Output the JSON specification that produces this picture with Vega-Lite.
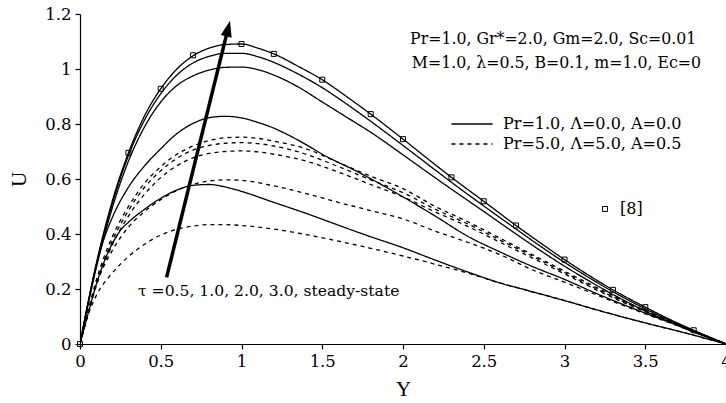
{
  "$schema": "https://vega.github.io/schema/vega-lite/v6.json",
  "width": 646,
  "height": 330,
  "autosize": {"type": "none"},
  "padding": {"left": 80, "top": 14, "right": 0, "bottom": 59},
  "background": "white",
  "config": {
    "view": {"stroke": null},
    "axis": {
      "grid": false,
      "domainColor": "black",
      "domainWidth": 1.2,
      "tickColor": "black",
      "tickSize": 5,
      "tickWidth": 1.2,
      "labelColor": "black",
      "labelFont": "DejaVu Serif",
      "labelFontSize": 16.5,
      "labelPadding": 4,
      "labelFlush": false,
      "titleColor": "black",
      "titleFont": "serif",
      "titleFontSize": 21,
      "titleFontWeight": "normal"
    }
  },
  "datasets": {
    "curves": [
      {"series":"Pr=1.0","tau":"ss","Y":0,"U":0},
      {"series":"Pr=1.0","tau":"ss","Y":0.1,"U":0.29},
      {"series":"Pr=1.0","tau":"ss","Y":0.2,"U":0.52},
      {"series":"Pr=1.0","tau":"ss","Y":0.3,"U":0.695},
      {"series":"Pr=1.0","tau":"ss","Y":0.4,"U":0.83},
      {"series":"Pr=1.0","tau":"ss","Y":0.5,"U":0.928},
      {"series":"Pr=1.0","tau":"ss","Y":0.6,"U":1.0},
      {"series":"Pr=1.0","tau":"ss","Y":0.7,"U":1.048},
      {"series":"Pr=1.0","tau":"ss","Y":0.8,"U":1.076},
      {"series":"Pr=1.0","tau":"ss","Y":0.9,"U":1.089},
      {"series":"Pr=1.0","tau":"ss","Y":1.0,"U":1.091},
      {"series":"Pr=1.0","tau":"ss","Y":1.1,"U":1.076},
      {"series":"Pr=1.0","tau":"ss","Y":1.2,"U":1.055},
      {"series":"Pr=1.0","tau":"ss","Y":1.35,"U":1.01},
      {"series":"Pr=1.0","tau":"ss","Y":1.5,"U":0.961},
      {"series":"Pr=1.0","tau":"ss","Y":1.65,"U":0.9},
      {"series":"Pr=1.0","tau":"ss","Y":1.8,"U":0.836},
      {"series":"Pr=1.0","tau":"ss","Y":2.0,"U":0.745},
      {"series":"Pr=1.0","tau":"ss","Y":2.15,"U":0.675},
      {"series":"Pr=1.0","tau":"ss","Y":2.3,"U":0.606},
      {"series":"Pr=1.0","tau":"ss","Y":2.5,"U":0.519},
      {"series":"Pr=1.0","tau":"ss","Y":2.7,"U":0.431},
      {"series":"Pr=1.0","tau":"ss","Y":2.85,"U":0.368},
      {"series":"Pr=1.0","tau":"ss","Y":3.0,"U":0.307},
      {"series":"Pr=1.0","tau":"ss","Y":3.15,"U":0.25},
      {"series":"Pr=1.0","tau":"ss","Y":3.3,"U":0.197},
      {"series":"Pr=1.0","tau":"ss","Y":3.5,"U":0.134},
      {"series":"Pr=1.0","tau":"ss","Y":3.65,"U":0.09},
      {"series":"Pr=1.0","tau":"ss","Y":3.8,"U":0.05},
      {"series":"Pr=1.0","tau":"ss","Y":4.0,"U":0},

      {"series":"Pr=1.0","tau":"3.0","Y":0,"U":0},
      {"series":"Pr=1.0","tau":"3.0","Y":0.1,"U":0.285},
      {"series":"Pr=1.0","tau":"3.0","Y":0.2,"U":0.51},
      {"series":"Pr=1.0","tau":"3.0","Y":0.3,"U":0.685},
      {"series":"Pr=1.0","tau":"3.0","Y":0.4,"U":0.815},
      {"series":"Pr=1.0","tau":"3.0","Y":0.5,"U":0.91},
      {"series":"Pr=1.0","tau":"3.0","Y":0.6,"U":0.978},
      {"series":"Pr=1.0","tau":"3.0","Y":0.7,"U":1.022},
      {"series":"Pr=1.0","tau":"3.0","Y":0.8,"U":1.046},
      {"series":"Pr=1.0","tau":"3.0","Y":0.9,"U":1.057},
      {"series":"Pr=1.0","tau":"3.0","Y":1.0,"U":1.057},
      {"series":"Pr=1.0","tau":"3.0","Y":1.1,"U":1.045},
      {"series":"Pr=1.0","tau":"3.0","Y":1.2,"U":1.024},
      {"series":"Pr=1.0","tau":"3.0","Y":1.35,"U":0.982},
      {"series":"Pr=1.0","tau":"3.0","Y":1.5,"U":0.932},
      {"series":"Pr=1.0","tau":"3.0","Y":1.65,"U":0.873},
      {"series":"Pr=1.0","tau":"3.0","Y":1.8,"U":0.81},
      {"series":"Pr=1.0","tau":"3.0","Y":2.0,"U":0.722},
      {"series":"Pr=1.0","tau":"3.0","Y":2.15,"U":0.655},
      {"series":"Pr=1.0","tau":"3.0","Y":2.3,"U":0.588},
      {"series":"Pr=1.0","tau":"3.0","Y":2.5,"U":0.502},
      {"series":"Pr=1.0","tau":"3.0","Y":2.7,"U":0.418},
      {"series":"Pr=1.0","tau":"3.0","Y":2.85,"U":0.356},
      {"series":"Pr=1.0","tau":"3.0","Y":3.0,"U":0.297},
      {"series":"Pr=1.0","tau":"3.0","Y":3.15,"U":0.242},
      {"series":"Pr=1.0","tau":"3.0","Y":3.3,"U":0.19},
      {"series":"Pr=1.0","tau":"3.0","Y":3.5,"U":0.128},
      {"series":"Pr=1.0","tau":"3.0","Y":3.65,"U":0.086},
      {"series":"Pr=1.0","tau":"3.0","Y":3.8,"U":0.047},
      {"series":"Pr=1.0","tau":"3.0","Y":4.0,"U":0},

      {"series":"Pr=1.0","tau":"2.0","Y":0,"U":0},
      {"series":"Pr=1.0","tau":"2.0","Y":0.1,"U":0.275},
      {"series":"Pr=1.0","tau":"2.0","Y":0.2,"U":0.495},
      {"series":"Pr=1.0","tau":"2.0","Y":0.3,"U":0.665},
      {"series":"Pr=1.0","tau":"2.0","Y":0.4,"U":0.79},
      {"series":"Pr=1.0","tau":"2.0","Y":0.5,"U":0.88},
      {"series":"Pr=1.0","tau":"2.0","Y":0.6,"U":0.94},
      {"series":"Pr=1.0","tau":"2.0","Y":0.7,"U":0.975},
      {"series":"Pr=1.0","tau":"2.0","Y":0.8,"U":0.996},
      {"series":"Pr=1.0","tau":"2.0","Y":0.9,"U":1.006},
      {"series":"Pr=1.0","tau":"2.0","Y":1.0,"U":1.007},
      {"series":"Pr=1.0","tau":"2.0","Y":1.1,"U":0.998},
      {"series":"Pr=1.0","tau":"2.0","Y":1.2,"U":0.978},
      {"series":"Pr=1.0","tau":"2.0","Y":1.35,"U":0.935},
      {"series":"Pr=1.0","tau":"2.0","Y":1.5,"U":0.88},
      {"series":"Pr=1.0","tau":"2.0","Y":1.65,"U":0.825},
      {"series":"Pr=1.0","tau":"2.0","Y":1.8,"U":0.77},
      {"series":"Pr=1.0","tau":"2.0","Y":2.0,"U":0.688},
      {"series":"Pr=1.0","tau":"2.0","Y":2.15,"U":0.625},
      {"series":"Pr=1.0","tau":"2.0","Y":2.3,"U":0.563},
      {"series":"Pr=1.0","tau":"2.0","Y":2.5,"U":0.482},
      {"series":"Pr=1.0","tau":"2.0","Y":2.7,"U":0.4},
      {"series":"Pr=1.0","tau":"2.0","Y":2.85,"U":0.34},
      {"series":"Pr=1.0","tau":"2.0","Y":3.0,"U":0.283},
      {"series":"Pr=1.0","tau":"2.0","Y":3.15,"U":0.23},
      {"series":"Pr=1.0","tau":"2.0","Y":3.3,"U":0.18},
      {"series":"Pr=1.0","tau":"2.0","Y":3.5,"U":0.12},
      {"series":"Pr=1.0","tau":"2.0","Y":3.65,"U":0.08},
      {"series":"Pr=1.0","tau":"2.0","Y":3.8,"U":0.043},
      {"series":"Pr=1.0","tau":"2.0","Y":4.0,"U":0},

      {"series":"Pr=1.0","tau":"1.0","Y":0,"U":0},
      {"series":"Pr=1.0","tau":"1.0","Y":0.05,"U":0.15},
      {"series":"Pr=1.0","tau":"1.0","Y":0.1,"U":0.285},
      {"series":"Pr=1.0","tau":"1.0","Y":0.15,"U":0.385},
      {"series":"Pr=1.0","tau":"1.0","Y":0.2,"U":0.46},
      {"series":"Pr=1.0","tau":"1.0","Y":0.3,"U":0.57},
      {"series":"Pr=1.0","tau":"1.0","Y":0.4,"U":0.648},
      {"series":"Pr=1.0","tau":"1.0","Y":0.5,"U":0.71},
      {"series":"Pr=1.0","tau":"1.0","Y":0.6,"U":0.765},
      {"series":"Pr=1.0","tau":"1.0","Y":0.7,"U":0.802},
      {"series":"Pr=1.0","tau":"1.0","Y":0.8,"U":0.823},
      {"series":"Pr=1.0","tau":"1.0","Y":0.9,"U":0.828},
      {"series":"Pr=1.0","tau":"1.0","Y":1.0,"U":0.822},
      {"series":"Pr=1.0","tau":"1.0","Y":1.1,"U":0.806},
      {"series":"Pr=1.0","tau":"1.0","Y":1.2,"U":0.785},
      {"series":"Pr=1.0","tau":"1.0","Y":1.3,"U":0.757},
      {"series":"Pr=1.0","tau":"1.0","Y":1.4,"U":0.725},
      {"series":"Pr=1.0","tau":"1.0","Y":1.5,"U":0.69},
      {"series":"Pr=1.0","tau":"1.0","Y":1.7,"U":0.632},
      {"series":"Pr=1.0","tau":"1.0","Y":1.85,"U":0.585},
      {"series":"Pr=1.0","tau":"1.0","Y":2.0,"U":0.535},
      {"series":"Pr=1.0","tau":"1.0","Y":2.2,"U":0.465},
      {"series":"Pr=1.0","tau":"1.0","Y":2.4,"U":0.392},
      {"series":"Pr=1.0","tau":"1.0","Y":2.6,"U":0.335},
      {"series":"Pr=1.0","tau":"1.0","Y":2.8,"U":0.282},
      {"series":"Pr=1.0","tau":"1.0","Y":3.0,"U":0.235},
      {"series":"Pr=1.0","tau":"1.0","Y":3.2,"U":0.183},
      {"series":"Pr=1.0","tau":"1.0","Y":3.4,"U":0.135},
      {"series":"Pr=1.0","tau":"1.0","Y":3.6,"U":0.09},
      {"series":"Pr=1.0","tau":"1.0","Y":3.8,"U":0.047},
      {"series":"Pr=1.0","tau":"1.0","Y":4.0,"U":0},

      {"series":"Pr=1.0","tau":"0.5","Y":0,"U":0},
      {"series":"Pr=1.0","tau":"0.5","Y":0.05,"U":0.11},
      {"series":"Pr=1.0","tau":"0.5","Y":0.1,"U":0.215},
      {"series":"Pr=1.0","tau":"0.5","Y":0.15,"U":0.3},
      {"series":"Pr=1.0","tau":"0.5","Y":0.2,"U":0.365},
      {"series":"Pr=1.0","tau":"0.5","Y":0.25,"U":0.413},
      {"series":"Pr=1.0","tau":"0.5","Y":0.3,"U":0.443},
      {"series":"Pr=1.0","tau":"0.5","Y":0.4,"U":0.49},
      {"series":"Pr=1.0","tau":"0.5","Y":0.5,"U":0.53},
      {"series":"Pr=1.0","tau":"0.5","Y":0.6,"U":0.56},
      {"series":"Pr=1.0","tau":"0.5","Y":0.7,"U":0.577},
      {"series":"Pr=1.0","tau":"0.5","Y":0.8,"U":0.58},
      {"series":"Pr=1.0","tau":"0.5","Y":0.9,"U":0.571},
      {"series":"Pr=1.0","tau":"0.5","Y":1.0,"U":0.555},
      {"series":"Pr=1.0","tau":"0.5","Y":1.2,"U":0.515},
      {"series":"Pr=1.0","tau":"0.5","Y":1.4,"U":0.475},
      {"series":"Pr=1.0","tau":"0.5","Y":1.6,"U":0.432},
      {"series":"Pr=1.0","tau":"0.5","Y":1.8,"U":0.39},
      {"series":"Pr=1.0","tau":"0.5","Y":2.0,"U":0.35},
      {"series":"Pr=1.0","tau":"0.5","Y":2.2,"U":0.305},
      {"series":"Pr=1.0","tau":"0.5","Y":2.4,"U":0.262},
      {"series":"Pr=1.0","tau":"0.5","Y":2.6,"U":0.222},
      {"series":"Pr=1.0","tau":"0.5","Y":2.8,"U":0.19},
      {"series":"Pr=1.0","tau":"0.5","Y":3.0,"U":0.158},
      {"series":"Pr=1.0","tau":"0.5","Y":3.2,"U":0.124},
      {"series":"Pr=1.0","tau":"0.5","Y":3.4,"U":0.092},
      {"series":"Pr=1.0","tau":"0.5","Y":3.6,"U":0.062},
      {"series":"Pr=1.0","tau":"0.5","Y":3.8,"U":0.032},
      {"series":"Pr=1.0","tau":"0.5","Y":4.0,"U":0},

      {"series":"Pr=5.0","tau":"ss","Y":0,"U":0},
      {"series":"Pr=5.0","tau":"ss","Y":0.05,"U":0.12},
      {"series":"Pr=5.0","tau":"ss","Y":0.1,"U":0.23},
      {"series":"Pr=5.0","tau":"ss","Y":0.2,"U":0.39},
      {"series":"Pr=5.0","tau":"ss","Y":0.3,"U":0.5},
      {"series":"Pr=5.0","tau":"ss","Y":0.4,"U":0.585},
      {"series":"Pr=5.0","tau":"ss","Y":0.5,"U":0.645},
      {"series":"Pr=5.0","tau":"ss","Y":0.6,"U":0.69},
      {"series":"Pr=5.0","tau":"ss","Y":0.7,"U":0.72},
      {"series":"Pr=5.0","tau":"ss","Y":0.8,"U":0.74},
      {"series":"Pr=5.0","tau":"ss","Y":0.9,"U":0.75},
      {"series":"Pr=5.0","tau":"ss","Y":1.0,"U":0.752},
      {"series":"Pr=5.0","tau":"ss","Y":1.1,"U":0.748},
      {"series":"Pr=5.0","tau":"ss","Y":1.2,"U":0.738},
      {"series":"Pr=5.0","tau":"ss","Y":1.4,"U":0.71},
      {"series":"Pr=5.0","tau":"ss","Y":1.6,"U":0.66},
      {"series":"Pr=5.0","tau":"ss","Y":1.8,"U":0.61},
      {"series":"Pr=5.0","tau":"ss","Y":2.0,"U":0.565},
      {"series":"Pr=5.0","tau":"ss","Y":2.2,"U":0.5},
      {"series":"Pr=5.0","tau":"ss","Y":2.4,"U":0.445},
      {"series":"Pr=5.0","tau":"ss","Y":2.6,"U":0.385},
      {"series":"Pr=5.0","tau":"ss","Y":2.8,"U":0.325},
      {"series":"Pr=5.0","tau":"ss","Y":3.0,"U":0.265},
      {"series":"Pr=5.0","tau":"ss","Y":3.2,"U":0.205},
      {"series":"Pr=5.0","tau":"ss","Y":3.4,"U":0.148},
      {"series":"Pr=5.0","tau":"ss","Y":3.6,"U":0.097},
      {"series":"Pr=5.0","tau":"ss","Y":3.8,"U":0.048},
      {"series":"Pr=5.0","tau":"ss","Y":4.0,"U":0},

      {"series":"Pr=5.0","tau":"3.0","Y":0,"U":0},
      {"series":"Pr=5.0","tau":"3.0","Y":0.05,"U":0.115},
      {"series":"Pr=5.0","tau":"3.0","Y":0.1,"U":0.22},
      {"series":"Pr=5.0","tau":"3.0","Y":0.2,"U":0.375},
      {"series":"Pr=5.0","tau":"3.0","Y":0.3,"U":0.485},
      {"series":"Pr=5.0","tau":"3.0","Y":0.4,"U":0.57},
      {"series":"Pr=5.0","tau":"3.0","Y":0.5,"U":0.63},
      {"series":"Pr=5.0","tau":"3.0","Y":0.6,"U":0.675},
      {"series":"Pr=5.0","tau":"3.0","Y":0.7,"U":0.705},
      {"series":"Pr=5.0","tau":"3.0","Y":0.8,"U":0.722},
      {"series":"Pr=5.0","tau":"3.0","Y":0.9,"U":0.73},
      {"series":"Pr=5.0","tau":"3.0","Y":1.0,"U":0.732},
      {"series":"Pr=5.0","tau":"3.0","Y":1.1,"U":0.729},
      {"series":"Pr=5.0","tau":"3.0","Y":1.2,"U":0.72},
      {"series":"Pr=5.0","tau":"3.0","Y":1.4,"U":0.69},
      {"series":"Pr=5.0","tau":"3.0","Y":1.6,"U":0.645},
      {"series":"Pr=5.0","tau":"3.0","Y":1.8,"U":0.597},
      {"series":"Pr=5.0","tau":"3.0","Y":2.0,"U":0.55},
      {"series":"Pr=5.0","tau":"3.0","Y":2.2,"U":0.49},
      {"series":"Pr=5.0","tau":"3.0","Y":2.4,"U":0.437},
      {"series":"Pr=5.0","tau":"3.0","Y":2.6,"U":0.378},
      {"series":"Pr=5.0","tau":"3.0","Y":2.8,"U":0.32},
      {"series":"Pr=5.0","tau":"3.0","Y":3.0,"U":0.26},
      {"series":"Pr=5.0","tau":"3.0","Y":3.2,"U":0.2},
      {"series":"Pr=5.0","tau":"3.0","Y":3.4,"U":0.145},
      {"series":"Pr=5.0","tau":"3.0","Y":3.6,"U":0.095},
      {"series":"Pr=5.0","tau":"3.0","Y":3.8,"U":0.047},
      {"series":"Pr=5.0","tau":"3.0","Y":4.0,"U":0},

      {"series":"Pr=5.0","tau":"2.0","Y":0,"U":0},
      {"series":"Pr=5.0","tau":"2.0","Y":0.05,"U":0.11},
      {"series":"Pr=5.0","tau":"2.0","Y":0.1,"U":0.21},
      {"series":"Pr=5.0","tau":"2.0","Y":0.2,"U":0.36},
      {"series":"Pr=5.0","tau":"2.0","Y":0.3,"U":0.465},
      {"series":"Pr=5.0","tau":"2.0","Y":0.4,"U":0.545},
      {"series":"Pr=5.0","tau":"2.0","Y":0.5,"U":0.605},
      {"series":"Pr=5.0","tau":"2.0","Y":0.6,"U":0.648},
      {"series":"Pr=5.0","tau":"2.0","Y":0.7,"U":0.677},
      {"series":"Pr=5.0","tau":"2.0","Y":0.8,"U":0.693},
      {"series":"Pr=5.0","tau":"2.0","Y":0.9,"U":0.7},
      {"series":"Pr=5.0","tau":"2.0","Y":1.0,"U":0.702},
      {"series":"Pr=5.0","tau":"2.0","Y":1.1,"U":0.699},
      {"series":"Pr=5.0","tau":"2.0","Y":1.2,"U":0.69},
      {"series":"Pr=5.0","tau":"2.0","Y":1.4,"U":0.665},
      {"series":"Pr=5.0","tau":"2.0","Y":1.6,"U":0.625},
      {"series":"Pr=5.0","tau":"2.0","Y":1.8,"U":0.58},
      {"series":"Pr=5.0","tau":"2.0","Y":2.0,"U":0.535},
      {"series":"Pr=5.0","tau":"2.0","Y":2.2,"U":0.48},
      {"series":"Pr=5.0","tau":"2.0","Y":2.4,"U":0.428},
      {"series":"Pr=5.0","tau":"2.0","Y":2.6,"U":0.37},
      {"series":"Pr=5.0","tau":"2.0","Y":2.8,"U":0.313},
      {"series":"Pr=5.0","tau":"2.0","Y":3.0,"U":0.255},
      {"series":"Pr=5.0","tau":"2.0","Y":3.2,"U":0.196},
      {"series":"Pr=5.0","tau":"2.0","Y":3.4,"U":0.142},
      {"series":"Pr=5.0","tau":"2.0","Y":3.6,"U":0.093},
      {"series":"Pr=5.0","tau":"2.0","Y":3.8,"U":0.046},
      {"series":"Pr=5.0","tau":"2.0","Y":4.0,"U":0},

      {"series":"Pr=5.0","tau":"1.0","Y":0,"U":0},
      {"series":"Pr=5.0","tau":"1.0","Y":0.05,"U":0.12},
      {"series":"Pr=5.0","tau":"1.0","Y":0.1,"U":0.215},
      {"series":"Pr=5.0","tau":"1.0","Y":0.2,"U":0.34},
      {"series":"Pr=5.0","tau":"1.0","Y":0.3,"U":0.425},
      {"series":"Pr=5.0","tau":"1.0","Y":0.4,"U":0.482},
      {"series":"Pr=5.0","tau":"1.0","Y":0.5,"U":0.525},
      {"series":"Pr=5.0","tau":"1.0","Y":0.6,"U":0.558},
      {"series":"Pr=5.0","tau":"1.0","Y":0.7,"U":0.58},
      {"series":"Pr=5.0","tau":"1.0","Y":0.8,"U":0.593},
      {"series":"Pr=5.0","tau":"1.0","Y":0.9,"U":0.597},
      {"series":"Pr=5.0","tau":"1.0","Y":1.0,"U":0.595},
      {"series":"Pr=5.0","tau":"1.0","Y":1.2,"U":0.575},
      {"series":"Pr=5.0","tau":"1.0","Y":1.4,"U":0.547},
      {"series":"Pr=5.0","tau":"1.0","Y":1.6,"U":0.515},
      {"series":"Pr=5.0","tau":"1.0","Y":1.8,"U":0.485},
      {"series":"Pr=5.0","tau":"1.0","Y":2.0,"U":0.455},
      {"series":"Pr=5.0","tau":"1.0","Y":2.2,"U":0.41},
      {"series":"Pr=5.0","tau":"1.0","Y":2.4,"U":0.37},
      {"series":"Pr=5.0","tau":"1.0","Y":2.6,"U":0.325},
      {"series":"Pr=5.0","tau":"1.0","Y":2.8,"U":0.27},
      {"series":"Pr=5.0","tau":"1.0","Y":3.0,"U":0.225},
      {"series":"Pr=5.0","tau":"1.0","Y":3.2,"U":0.178},
      {"series":"Pr=5.0","tau":"1.0","Y":3.4,"U":0.132},
      {"series":"Pr=5.0","tau":"1.0","Y":3.6,"U":0.088},
      {"series":"Pr=5.0","tau":"1.0","Y":3.8,"U":0.045},
      {"series":"Pr=5.0","tau":"1.0","Y":4.0,"U":0},

      {"series":"Pr=5.0","tau":"0.5","Y":0,"U":0},
      {"series":"Pr=5.0","tau":"0.5","Y":0.05,"U":0.105},
      {"series":"Pr=5.0","tau":"0.5","Y":0.1,"U":0.175},
      {"series":"Pr=5.0","tau":"0.5","Y":0.2,"U":0.258},
      {"series":"Pr=5.0","tau":"0.5","Y":0.3,"U":0.318},
      {"series":"Pr=5.0","tau":"0.5","Y":0.4,"U":0.363},
      {"series":"Pr=5.0","tau":"0.5","Y":0.5,"U":0.396},
      {"series":"Pr=5.0","tau":"0.5","Y":0.6,"U":0.417},
      {"series":"Pr=5.0","tau":"0.5","Y":0.7,"U":0.429},
      {"series":"Pr=5.0","tau":"0.5","Y":0.8,"U":0.434},
      {"series":"Pr=5.0","tau":"0.5","Y":0.9,"U":0.434},
      {"series":"Pr=5.0","tau":"0.5","Y":1.0,"U":0.431},
      {"series":"Pr=5.0","tau":"0.5","Y":1.2,"U":0.418},
      {"series":"Pr=5.0","tau":"0.5","Y":1.4,"U":0.398},
      {"series":"Pr=5.0","tau":"0.5","Y":1.6,"U":0.374},
      {"series":"Pr=5.0","tau":"0.5","Y":1.8,"U":0.348},
      {"series":"Pr=5.0","tau":"0.5","Y":2.0,"U":0.32},
      {"series":"Pr=5.0","tau":"0.5","Y":2.2,"U":0.29},
      {"series":"Pr=5.0","tau":"0.5","Y":2.4,"U":0.258},
      {"series":"Pr=5.0","tau":"0.5","Y":2.6,"U":0.222},
      {"series":"Pr=5.0","tau":"0.5","Y":2.8,"U":0.19},
      {"series":"Pr=5.0","tau":"0.5","Y":3.0,"U":0.158},
      {"series":"Pr=5.0","tau":"0.5","Y":3.2,"U":0.124},
      {"series":"Pr=5.0","tau":"0.5","Y":3.4,"U":0.092},
      {"series":"Pr=5.0","tau":"0.5","Y":3.6,"U":0.062},
      {"series":"Pr=5.0","tau":"0.5","Y":3.8,"U":0.032},
      {"series":"Pr=5.0","tau":"0.5","Y":4.0,"U":0}
    ],
    "ref8": [
      {"Y":0,"U":0},
      {"Y":0.3,"U":0.695},
      {"Y":0.5,"U":0.928},
      {"Y":0.7,"U":1.05},
      {"Y":1.0,"U":1.091},
      {"Y":1.2,"U":1.055},
      {"Y":1.5,"U":0.961},
      {"Y":1.8,"U":0.836},
      {"Y":2.0,"U":0.745},
      {"Y":2.3,"U":0.606},
      {"Y":2.5,"U":0.519},
      {"Y":2.7,"U":0.431},
      {"Y":3.0,"U":0.307},
      {"Y":3.3,"U":0.197},
      {"Y":3.5,"U":0.134},
      {"Y":3.8,"U":0.05},
      {"Y":3.251,"U":0.491}
    ],
    "legendlines": [
      {"series":"Pr=1.0","Y":2.30,"Y2":2.555,"U":0.80},
      {"series":"Pr=5.0","Y":2.30,"Y2":2.555,"U":0.727}
    ],
    "legendtext": [
      {"Y":2.619,"U":0.80,"label":"Pr=1.0, Λ=0.0, A=0.0"},
      {"Y":2.619,"U":0.727,"label":"Pr=5.0, Λ=5.0, A=0.5"},
      {"Y":3.344,"U":0.491,"label":"[8]"}
    ],
    "params": [
      {"Y":2.93,"U":1.11,"label":"Pr=1.0, Gr*=2.0, Gm=2.0, Sc=0.01"},
      {"Y":2.95,"U":1.023,"label":"M=1.0, λ=0.5, B=0.1, m=1.0, Ec=0"}
    ],
    "taulabel": [
      {"Y":0.359,"U":0.193,"label":"τ =0.5, 1.0, 2.0, 3.0, steady-state"}
    ],
    "arrow": [
      {"Y":0.536,"U":0.242,"Y2":0.907,"U2":1.124,"Yh":0.917,"Uh":1.147}
    ]
  },
  "layer": [
    {
      "mark": {"type": "rule", "color": "black", "strokeWidth": 1.2},
      "encoding": {"y": {"datum": 1.2, "type": "quantitative"}}
    },
    {
      "data": {"name": "curves"},
      "mark": {"type": "line", "color": "black", "interpolate": "monotone", "strokeWidth": 1.3, "clip": true},
      "encoding": {
        "x": {
          "field": "Y", "type": "quantitative",
          "scale": {"domain": [0, 4], "nice": false, "zero": false},
          "axis": {"values": [0, 0.5, 1, 1.5, 2, 2.5, 3, 3.5, 4], "format": "~g", "title": "Y", "titlePadding": 9}
        },
        "y": {
          "field": "U", "type": "quantitative",
          "scale": {"domain": [0, 1.2], "nice": false},
          "axis": {"values": [0, 0.2, 0.4, 0.6, 0.8, 1, 1.2], "format": "~g", "title": "U", "titlePadding": 15}
        },
        "strokeDash": {
          "field": "series", "type": "nominal",
          "scale": {"domain": ["Pr=1.0", "Pr=5.0"], "range": [[1, 0], [4, 4]]},
          "legend": null
        },
        "detail": {"field": "tau", "type": "nominal"}
      }
    },
    {
      "data": {"name": "legendlines"},
      "mark": {"type": "rule", "color": "black", "strokeWidth": 1.5},
      "encoding": {
        "x": {"field": "Y", "type": "quantitative"},
        "x2": {"field": "Y2"},
        "y": {"field": "U", "type": "quantitative"},
        "strokeDash": {
          "field": "series", "type": "nominal",
          "scale": {"domain": ["Pr=1.0", "Pr=5.0"], "range": [[1, 0], [8, 3]]},
          "legend": null
        }
      }
    },
    {
      "data": {"name": "ref8"},
      "mark": {"type": "point", "shape": "square", "filled": false, "color": "black", "strokeWidth": 1, "size": 25, "opacity": 1},
      "encoding": {
        "x": {"field": "Y", "type": "quantitative"},
        "y": {"field": "U", "type": "quantitative"}
      }
    },
    {
      "data": {"name": "arrow"},
      "mark": {"type": "rule", "color": "black", "strokeWidth": 3.5},
      "encoding": {
        "x": {"field": "Y", "type": "quantitative"},
        "y": {"field": "U", "type": "quantitative"},
        "x2": {"field": "Y2"},
        "y2": {"field": "U2"}
      }
    },
    {
      "data": {"name": "arrow"},
      "mark": {"type": "point", "shape": "M0,-1L0.7,1L-0.7,1Z", "filled": true, "color": "black", "opacity": 1, "size": 256, "angle": 13.8},
      "encoding": {
        "x": {"field": "Yh", "type": "quantitative"},
        "y": {"field": "Uh", "type": "quantitative"}
      }
    },
    {
      "data": {"name": "legendtext"},
      "mark": {"type": "text", "align": "left", "baseline": "middle", "font": "DejaVu Serif", "fontSize": 16, "color": "black"},
      "encoding": {
        "x": {"field": "Y", "type": "quantitative"},
        "y": {"field": "U", "type": "quantitative"},
        "text": {"field": "label"}
      }
    },
    {
      "data": {"name": "params"},
      "mark": {"type": "text", "align": "center", "baseline": "middle", "font": "DejaVu Serif", "fontSize": 15.75, "color": "black"},
      "encoding": {
        "x": {"field": "Y", "type": "quantitative"},
        "y": {"field": "U", "type": "quantitative"},
        "text": {"field": "label"}
      }
    },
    {
      "data": {"name": "taulabel"},
      "mark": {"type": "text", "align": "left", "baseline": "middle", "font": "DejaVu Serif", "fontSize": 15.6, "color": "black"},
      "encoding": {
        "x": {"field": "Y", "type": "quantitative"},
        "y": {"field": "U", "type": "quantitative"},
        "text": {"field": "label"}
      }
    }
  ]
}
